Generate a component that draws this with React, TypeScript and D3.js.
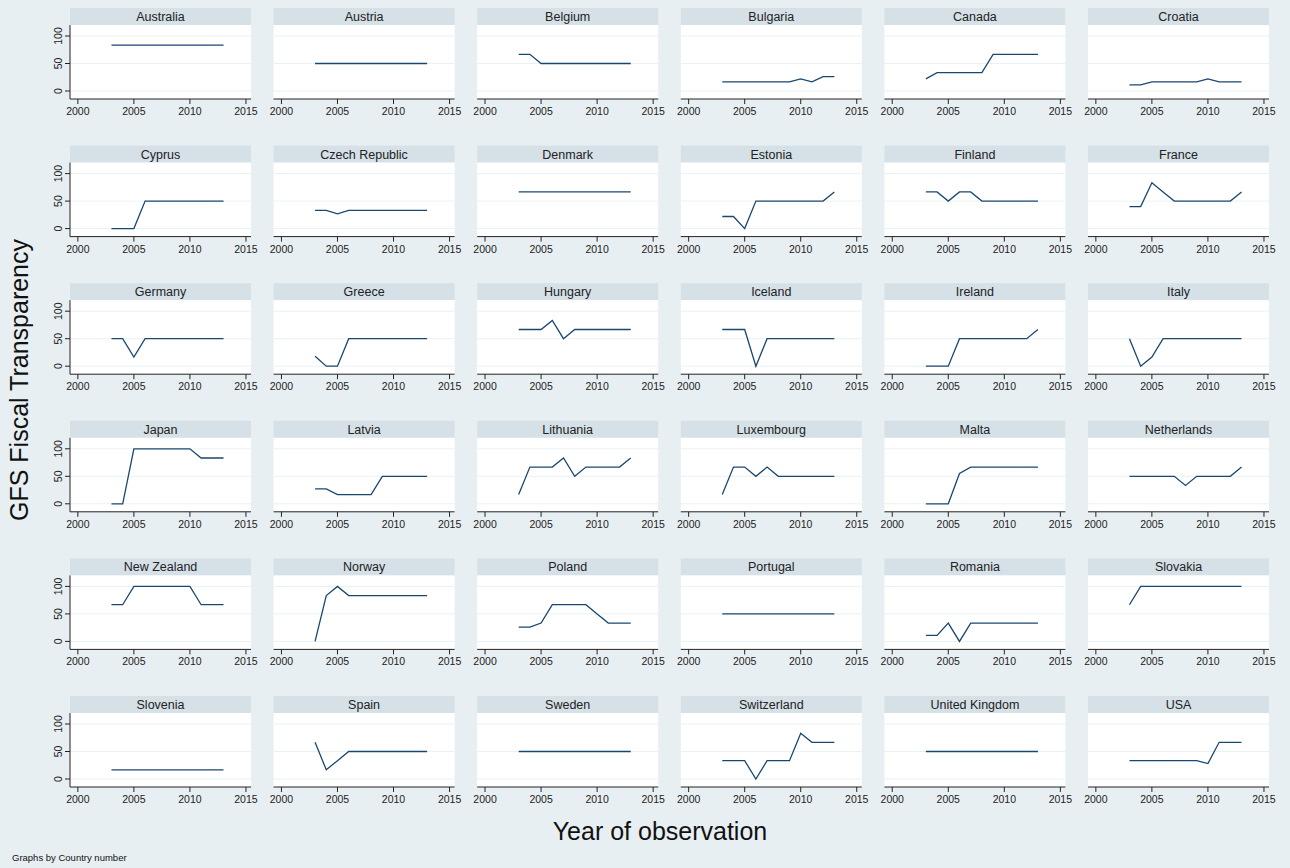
import React from 'react';
import * as d3 from 'd3';

// observation years shared by every panel
const years = [2003, 2004, 2005, 2006, 2007, 2008, 2009, 2010, 2011, 2012, 2013];
const xTicks = [2000, 2005, 2010, 2015];
const yTicks = [0, 50, 100];

const countries = [
  'Australia', 'Austria', 'Belgium', 'Bulgaria', 'Canada', 'Croatia',
  'Cyprus', 'Czech Republic', 'Denmark', 'Estonia', 'Finland', 'France',
  'Germany', 'Greece', 'Hungary', 'Iceland', 'Ireland', 'Italy',
  'Japan', 'Latvia', 'Lithuania', 'Luxembourg', 'Malta', 'Netherlands',
  'New Zealand', 'Norway', 'Poland', 'Portugal', 'Romania', 'Slovakia',
  'Slovenia', 'Spain', 'Sweden', 'Switzerland', 'United Kingdom', 'USA',
];

// GFS fiscal transparency score, 2003..2013, one row per country
const transparency = [
  [83.3, 83.3, 83.3, 83.3, 83.3, 83.3, 83.3, 83.3, 83.3, 83.3, 83.3],
  [50, 50, 50, 50, 50, 50, 50, 50, 50, 50, 50],
  [66.7, 66.7, 50, 50, 50, 50, 50, 50, 50, 50, 50],
  [16.7, 16.7, 16.7, 16.7, 16.7, 16.7, 16.7, 22, 16.7, 26, 26],
  [22, 33.3, 33.3, 33.3, 33.3, 33.3, 66.7, 66.7, 66.7, 66.7, 66.7],
  [11, 11, 16.7, 16.7, 16.7, 16.7, 16.7, 22, 16.7, 16.7, 16.7],
  [0, 0, 0, 50, 50, 50, 50, 50, 50, 50, 50],
  [33.3, 33.3, 27, 33.3, 33.3, 33.3, 33.3, 33.3, 33.3, 33.3, 33.3],
  [66.7, 66.7, 66.7, 66.7, 66.7, 66.7, 66.7, 66.7, 66.7, 66.7, 66.7],
  [22, 22, 0, 50, 50, 50, 50, 50, 50, 50, 66.7],
  [66.7, 66.7, 50, 66.7, 66.7, 50, 50, 50, 50, 50, 50],
  [40, 40, 83.3, 66.7, 50, 50, 50, 50, 50, 50, 66.7],
  [50, 50, 16.7, 50, 50, 50, 50, 50, 50, 50, 50],
  [18, 0, 0, 50, 50, 50, 50, 50, 50, 50, 50],
  [66.7, 66.7, 66.7, 83.3, 50, 66.7, 66.7, 66.7, 66.7, 66.7, 66.7],
  [66.7, 66.7, 66.7, 0, 50, 50, 50, 50, 50, 50, 50],
  [0, 0, 0, 50, 50, 50, 50, 50, 50, 50, 66.7],
  [50, 0, 16.7, 50, 50, 50, 50, 50, 50, 50, 50],
  [0, 0, 100, 100, 100, 100, 100, 100, 83.3, 83.3, 83.3],
  [27, 27, 16.7, 16.7, 16.7, 16.7, 50, 50, 50, 50, 50],
  [16.7, 66.7, 66.7, 66.7, 83.3, 50, 66.7, 66.7, 66.7, 66.7, 83.3],
  [16.7, 66.7, 66.7, 50, 66.7, 50, 50, 50, 50, 50, 50],
  [0, 0, 0, 55, 66.7, 66.7, 66.7, 66.7, 66.7, 66.7, 66.7],
  [50, 50, 50, 50, 50, 33.3, 50, 50, 50, 50, 66.7],
  [66.7, 66.7, 100, 100, 100, 100, 100, 100, 66.7, 66.7, 66.7],
  [0, 83.3, 100, 83.3, 83.3, 83.3, 83.3, 83.3, 83.3, 83.3, 83.3],
  [26, 26, 33.3, 66.7, 66.7, 66.7, 66.7, 50, 33.3, 33.3, 33.3],
  [50, 50, 50, 50, 50, 50, 50, 50, 50, 50, 50],
  [11, 11, 33.3, 0, 33.3, 33.3, 33.3, 33.3, 33.3, 33.3, 33.3],
  [66.7, 100, 100, 100, 100, 100, 100, 100, 100, 100, 100],
  [16.7, 16.7, 16.7, 16.7, 16.7, 16.7, 16.7, 16.7, 16.7, 16.7, 16.7],
  [66.7, 16.7, 33.3, 50, 50, 50, 50, 50, 50, 50, 50],
  [50, 50, 50, 50, 50, 50, 50, 50, 50, 50, 50],
  [33.3, 33.3, 33.3, 0, 33.3, 33.3, 33.3, 83.3, 66.7, 66.7, 66.7],
  [50, 50, 50, 50, 50, 50, 50, 50, 50, 50, 50],
  [33.3, 33.3, 33.3, 33.3, 33.3, 33.3, 33.3, 28, 66.7, 66.7, 66.7],
];

const font = '"Liberation Sans", Arial, sans-serif';
const bg = '#e8eff2';
const stripFill = '#d5e0e7';
const gridColor = '#eaf1f3';
const lineColor = '#1a476f';

const W = 1290, H = 868;
const cols = 6;
const left0 = 70, colStep = 203.6, panelW = 181;
const top0 = 8, rowStep = 137.6, stripH = 17, axisOff = 91;

const Panel = ({ idx }: { idx: number }) => {
  const c = idx % cols;
  const r = Math.floor(idx / cols);
  const x0 = left0 + c * colStep;
  const y0 = top0 + r * rowStep;

  const x = d3.scaleLinear().domain([1999.3, 2015.45]).range([x0, x0 + panelW]);
  const y = d3.scaleLinear().domain([0, 100]).range([y0 + 83, y0 + 28]);
  const axisY = y0 + axisOff;

  const line = d3.line<number>()
    .x((d, i) => x(years[i]))
    .y(d => y(d));

  return (
    <g>
      <rect x={x0} y={y0} width={panelW} height={stripH} fill={stripFill} />
      <text x={x0 + panelW / 2} y={y0 + 13} textAnchor="middle" fontSize={12.5} fill="#222">{countries[idx]}</text>
      <rect x={x0} y={y0 + stripH} width={panelW} height={axisY - y0 - stripH} fill="#fff" />
      {yTicks.map(t => (
        <line key={t} x1={x0} x2={x0 + panelW} y1={y(t)} y2={y(t)} stroke={gridColor} strokeWidth={1} />
      ))}
      <path d={line(transparency[idx]) || ''} fill="none" stroke={lineColor} strokeWidth={1.3} />
      <line x1={x0} x2={x0 + panelW} y1={axisY} y2={axisY} stroke="#222" strokeWidth={1} />
      {xTicks.map(t => (
        <g key={t}>
          <line x1={x(t)} x2={x(t)} y1={axisY} y2={axisY + 5} stroke="#222" />
          <text x={x(t)} y={axisY + 16} textAnchor="middle" fontSize={10.5} fill="#222">{t}</text>
        </g>
      ))}
      {c === 0 && (
        <g>
          <line x1={x0} x2={x0} y1={y0 + stripH} y2={axisY} stroke="#222" />
          {yTicks.map(t => (
            <g key={t}>
              <line x1={x0 - 5} x2={x0} y1={y(t)} y2={y(t)} stroke="#222" />
              <text transform={`translate(${x0 - 8},${y(t)}) rotate(-90)`} textAnchor="middle"
                fontSize={10.5} fill="#222">{t}</text>
            </g>
          ))}
        </g>
      )}
    </g>
  );
};

export default function App() {
  return (
    <svg width={W} height={H} style={{ position: 'absolute', left: 0, top: 0, fontFamily: font }}>
      <rect width={W} height={H} fill={bg} />
      {countries.map((name, i) => <Panel key={name} idx={i} />)}
      <text transform="translate(28,380) rotate(-90)" textAnchor="middle" fontSize={25} fill="#111">GFS Fiscal Transparency</text>
      <text x={660} y={840} textAnchor="middle" fontSize={25} fill="#111">Year of observation</text>
      <text x={12} y={861} fontSize={9.5} fill="#111">Graphs by Country number</text>
    </svg>
  );
}
